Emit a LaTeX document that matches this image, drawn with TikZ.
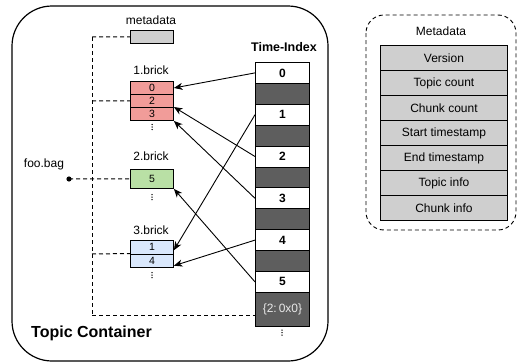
\documentclass[tikz,border=0pt]{standalone}
\usepackage{fontspec}
\setmainfont{Liberation Sans}
\usetikzlibrary{arrows.meta,calc}
\definecolor{brickred}{HTML}{F19C99}
\definecolor{brickgreen}{HTML}{B9E0A5}
\definecolor{brickblue}{HTML}{DAE8FC}
\definecolor{metagray}{HTML}{CFCFCF}
\definecolor{darkrow}{HTML}{5E5E5E}
\definecolor{lighttext}{HTML}{E8E8E8}
\begin{document}
\begin{tikzpicture}[x=1pt,y=-1pt,
  cell/.style={draw=black,line width=0.9pt,inner sep=0pt,anchor=north west,
    minimum width=43pt,font=\fontsize{10.5}{11}\selectfont},
  trow/.style={draw=black,line width=0.9pt,inner sep=0pt,anchor=north west,
    minimum width=54pt,minimum height=20.9pt,font=\fontsize{12}{13}\selectfont\bfseries},
  tdark/.style={trow,fill=darkrow},
  mrow/.style={draw=black,line width=0.9pt,fill=metagray,inner sep=0pt,anchor=north west,
    minimum width=127pt,minimum height=25pt,font=\fontsize{12}{13}\selectfont},
  lbl/.style={inner sep=0pt,font=\fontsize{12}{13}\selectfont},
  dashln/.style={line width=1pt,dash pattern=on 4pt off 3pt},
  arr/.style={line width=0.9pt,-{Stealth[length=8.5pt,width=7pt,inset=2.5pt]}},
  vdots/.style={fill=black}
]
\useasboundingbox (0,0) rectangle (517,364);

% outer container
\draw[line width=1.2pt,rounded corners=40pt] (12,6) rectangle (328,361);
\node[inner sep=0pt,anchor=west,font=\fontsize{16}{18}\selectfont\bfseries] (tc) at (31,333) {Topic Container};

% metadata small box
\node[lbl] (mlab) at (151,20) {metadata};
\node[cell,fill=metagray,minimum height=13pt] (meta) at (130,30) {};

% brick 1
\node[lbl] (b1lab) at (151,70) {1.brick};
\node[cell,fill=brickred,minimum height=13pt] (b1r0) at (130,81) {0};
\node[cell,fill=brickred,minimum height=13pt] (b1r2) at (130,94) {2};
\node[cell,fill=brickred,minimum height=13pt] (b1r3) at (130,107) {3};
\foreach \yy in {124.5,127,129.5} \fill[vdots] (152,\yy) circle (0.75);

% brick 2
\node[lbl] (b2lab) at (151,156) {2.brick};
\node[cell,fill=brickgreen,minimum height=19pt] (b2) at (130,169) {5};
\foreach \yy in {194.5,197,199.5} \fill[vdots] (152,\yy) circle (0.75);

% brick 3
\node[lbl] (b3lab) at (151,230) {3.brick};
\node[cell,fill=brickblue,minimum height=13.5pt] (b3r1) at (130,240) {1};
\node[cell,fill=brickblue,minimum height=13.5pt] (b3r4) at (130,253.5) {4};
\foreach \yy in {272.5,275,277.5} \fill[vdots] (152,\yy) circle (0.75);

% foo.bag
\node[lbl] (foo) at (44,164) {foo.bag};
\fill (69,179) circle (2.6);
\coordinate (dot) at (69,179);

% time index
\node[inner sep=0pt,font=\fontsize{12.5}{14}\selectfont\bfseries] (tilab) at (284,47) {Time-Index};
\node[trow] (w0) at (255,62) {0};
\node[tdark] (d1) at (255,82.9) {};
\node[trow] (w1) at (255,103.8) {1};
\node[tdark] (d2) at (255,124.7) {};
\node[trow] (w2) at (255,145.6) {2};
\node[tdark] (d3) at (255,166.5) {};
\node[trow] (w3) at (255,187.4) {3};
\node[tdark] (d4) at (255,208.3) {};
\node[trow] (w4) at (255,229.2) {4};
\node[tdark] (d5) at (255,250.1) {};
\node[trow] (w5) at (255,271) {5};
\node[tdark,minimum height=34pt,text=lighttext,font=\fontsize{12}{13}\selectfont] (last) at (255,291.9) {\{2:\,0x0\}};
\foreach \yy in {330,332.5,335} \fill[vdots] (282,\yy) circle (0.75);

% dashed tree
\coordinate (vtop) at (92,37);
\coordinate (vbot) at (92,315);
\draw[dashln] (vtop) -- (vbot);
\draw[dashln] (vtop) -- (meta.west);
\draw[dashln] (92,101) -- (b1r2.west);
\draw[dashln] (dot) -- (b2.west);
\draw[dashln] (92,254) -- (b3r4.north west);
\draw[dashln] (vbot) -- (last.west |- vbot);

% arrows
\draw[arr] (w0.west) -- (b1r0.east);
\draw[arr] (w2.west) -- (b1r3.north east);
\draw[arr] (w3.west) -- (b1r3.south east);
\draw[arr] (w1.west) -- ([yshift=-3pt]b3r1.east);
\draw[arr] (w4.west) -- ([yshift=-5pt]b3r4.east);
\draw[arr] (w5.west) -- (b2.south east);

% right metadata panel
\draw[line width=0.9pt,dash pattern=on 4pt off 3pt,rounded corners=18pt] (366,15) rectangle (516,230);
\node[lbl] (mdlab) at (441,31) {Metadata};
\node[mrow] (m1) at (380,45) {Version};
\node[mrow] (m2) at (380,70) {Topic count};
\node[mrow] (m3) at (380,95) {Chunk count};
\node[mrow] (m4) at (380,120) {Start timestamp};
\node[mrow] (m5) at (380,145) {End timestamp};
\node[mrow] (m6) at (380,170) {Topic info};
\node[mrow] (m7) at (380,195) {Chunk info};
\end{tikzpicture}
\end{document}
